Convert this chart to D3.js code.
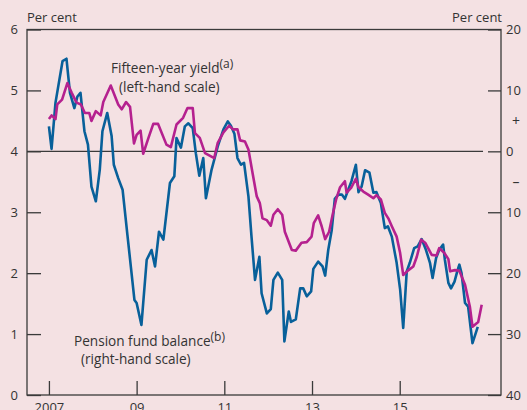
<!DOCTYPE html>
<html>
<head>
<meta charset="utf-8">
<script src="https://cdn.jsdelivr.net/npm/d3@7"></script>
<style>
  html, body { margin: 0; padding: 0; background: #f4e1e3; }
  svg { display: block; }
  text { font-family: "Open Sans", "Noto Sans", sans-serif; fill: #333; }
</style>
</head>
<body>
<svg id="chart" width="527" height="410"></svg>
<script>
// ---- Data ----
// Fifteen-year yield, per cent (left-hand scale); dates in decimal years
const yieldDates = [2007.00, 2007.06, 2007.15, 2007.19, 2007.30, 2007.42, 2007.52, 2007.63, 2007.73, 2007.82,
  2007.92, 2007.97, 2008.07, 2008.18, 2008.24, 2008.41, 2008.58, 2008.66, 2008.76, 2008.85,
  2008.94, 2009.00, 2009.09, 2009.15, 2009.27, 2009.38, 2009.49, 2009.68, 2009.78, 2009.91,
  2010.06, 2010.16, 2010.28, 2010.33, 2010.44, 2010.56, 2010.77, 2010.85, 2010.98, 2011.11,
  2011.20, 2011.30, 2011.36, 2011.47, 2011.55, 2011.65, 2011.74, 2011.81, 2011.87, 2011.97,
  2012.06, 2012.12, 2012.22, 2012.32, 2012.38, 2012.54, 2012.63, 2012.76, 2012.88, 2012.99,
  2013.04, 2013.14, 2013.22, 2013.30, 2013.39, 2013.47, 2013.55, 2013.64, 2013.75, 2013.79,
  2013.90, 2014.00, 2014.06, 2014.17, 2014.28, 2014.40, 2014.47, 2014.57, 2014.66, 2014.74,
  2014.82, 2014.93, 2015.01, 2015.08, 2015.20, 2015.31, 2015.39, 2015.49, 2015.58, 2015.73,
  2015.84, 2015.90, 2016.01, 2016.11, 2016.15, 2016.26, 2016.36, 2016.49, 2016.60, 2016.66,
  2016.79, 2016.87];
const yieldValues = [4.53, 4.59, 4.53, 4.77, 4.85, 5.12, 4.96, 4.80, 4.77, 4.63,
  4.63, 4.50, 4.66, 4.59, 4.81, 5.08, 4.77, 4.69, 4.81, 4.73,
  4.13, 4.27, 4.34, 3.96, 4.22, 4.45, 4.45, 4.11, 4.07, 4.44,
  4.55, 4.71, 4.71, 4.30, 4.22, 3.97, 3.89, 4.14, 4.31, 4.42,
  4.36, 4.36, 4.18, 4.16, 4.03, 3.62, 3.26, 3.15, 2.90, 2.87,
  2.78, 2.96, 3.05, 2.96, 2.68, 2.38, 2.37, 2.50, 2.51, 2.60,
  2.82, 2.95, 2.77, 2.56, 2.68, 2.96, 3.21, 3.41, 3.51, 3.32,
  3.41, 3.55, 3.41, 3.34, 3.29, 3.23, 3.28, 3.21, 2.99, 2.90,
  2.77, 2.60, 2.33, 1.97, 2.05, 2.11, 2.27, 2.55, 2.50, 2.30,
  2.29, 2.41, 2.34, 2.23, 2.03, 2.05, 2.04, 1.81, 1.45, 1.12,
  1.20, 1.48];

// Pension fund balance, per cent (right-hand scale)
const balanceDates = [2007.00, 2007.06, 2007.15, 2007.31, 2007.40, 2007.48, 2007.58, 2007.65, 2007.72, 2007.81,
  2007.89, 2007.97, 2008.07, 2008.16, 2008.22, 2008.33, 2008.43, 2008.48, 2008.58, 2008.68,
  2008.79, 2008.95, 2009.00, 2009.11, 2009.23, 2009.34, 2009.42, 2009.51, 2009.61, 2009.76,
  2009.86, 2009.91, 2010.01, 2010.10, 2010.18, 2010.28, 2010.35, 2010.43, 2010.52, 2010.58,
  2010.71, 2010.85, 2010.98, 2011.08, 2011.15, 2011.23, 2011.30, 2011.38, 2011.45, 2011.55,
  2011.62, 2011.70, 2011.80, 2011.85, 2011.97, 2012.06, 2012.12, 2012.22, 2012.32, 2012.37,
  2012.47, 2012.52, 2012.63, 2012.73, 2012.80, 2012.88, 2012.98, 2013.03, 2013.14, 2013.24,
  2013.30, 2013.37, 2013.45, 2013.52, 2013.60, 2013.68, 2013.75, 2013.83, 2013.90, 2014.00,
  2014.06, 2014.13, 2014.21, 2014.31, 2014.40, 2014.47, 2014.57, 2014.66, 2014.73, 2014.82,
  2014.93, 2015.01, 2015.08, 2015.16, 2015.23, 2015.33, 2015.41, 2015.50, 2015.60, 2015.69,
  2015.75, 2015.83, 2015.90, 2015.99, 2016.03, 2016.11, 2016.17, 2016.25, 2016.32, 2016.36,
  2016.41, 2016.49, 2016.56, 2016.66, 2016.78];
const balanceValues = [4.1, 0.4, 8.0, 14.8, 15.2, 9.6, 7.1, 9.0, 9.6, 3.3,
  1.1, -5.8, -8.2, -3.0, 3.3, 6.3, 2.5, -2.2, -4.4, -6.3,
  -13.7, -24.4, -24.9, -28.5, -17.8, -16.2, -18.9, -13.2, -14.5, -5.2,
  -4.1, 2.2, 0.6, 4.1, 4.6, 3.8, -0.3, -4.0, -1.1, -7.7,
  -3.0, 0.8, 3.6, 4.9, 4.2, 2.9, -1.1, -2.2, -1.9, -7.4,
  -14.0, -21.1, -17.3, -23.3, -26.6, -25.9, -21.1, -19.9, -21.1, -31.2,
  -26.3, -28.0, -27.6, -22.5, -22.5, -23.8, -23.0, -19.3, -18.1, -18.9,
  -20.4, -16.2, -12.9, -7.8, -7.1, -7.1, -7.8, -6.2, -4.9, -2.2,
  -6.7, -5.8, -3.1, -3.5, -6.8, -6.7, -8.5, -12.6, -12.3, -14.0,
  -18.3, -22.7, -29.0, -19.7, -18.3, -15.9, -15.6, -14.4, -16.2, -18.3,
  -20.8, -17.5, -16.2, -15.3, -17.8, -21.6, -22.5, -21.4, -19.5, -18.6,
  -20.0, -24.9, -25.5, -31.5, -28.8];

// Axis ticks and labels
const xTickYears = [2007, 2009, 2011, 2013, 2015];
const xTickLabels = ["2007", "09", "11", "13", "15"];
const leftTicks = [0, 1, 2, 3, 4, 5, 6];
const rightTicks = [20, 10, 0, -10, -20, -30, -40];
const rightTickLabels = ["20", "10", "0", "10", "20", "30", "40"];

// ---- Layout ----
const svg = d3.select("#chart");
const W = 527, H = 410;
const plot = { left: 27, right: 501, top: 29.5, bottom: 395 };
const colors = { bg: "#f4e1e3", axis: "#3a3a3a", blue: "#08609a", magenta: "#b5218f", text: "#333" };

svg.append("rect").attr("width", W).attr("height", H).attr("fill", colors.bg);

const x = d3.scaleLinear().domain([2006.5, 2017.31]).range([plot.left, plot.right]);
const yL = d3.scaleLinear().domain([0, 6]).range([plot.bottom, plot.top]);
const yR = d3.scaleLinear().domain([-40, 20]).range([plot.bottom, plot.top]);

// zero line of right-hand scale
svg.append("line")
  .attr("x1", plot.left).attr("x2", x(2016.9))
  .attr("y1", yR(0)).attr("y2", yR(0))
  .attr("stroke", colors.axis).attr("stroke-width", 1.3);

// series
const balance = balanceDates.map((d, i) => ({ t: d, v: balanceValues[i] }));
const yld = yieldDates.map((d, i) => ({ t: d, v: yieldValues[i] }));

svg.append("path").datum(balance)
  .attr("fill", "none").attr("stroke", colors.blue).attr("stroke-width", 2.6)
  .attr("stroke-linejoin", "round")
  .attr("d", d3.line().x(d => x(d.t)).y(d => yR(d.v)));

svg.append("path").datum(yld)
  .attr("fill", "none").attr("stroke", colors.magenta).attr("stroke-width", 2.6)
  .attr("stroke-linejoin", "round")
  .attr("d", d3.line().x(d => x(d.t)).y(d => yL(d.v)));

// frame
svg.append("rect")
  .attr("x", plot.left).attr("y", plot.top)
  .attr("width", plot.right - plot.left).attr("height", plot.bottom - plot.top)
  .attr("fill", "none").attr("stroke", colors.axis).attr("stroke-width", 1.3);

function styleAxis(g) {
  g.select(".domain").remove();
  g.selectAll(".tick line").attr("stroke", colors.axis).attr("stroke-width", 1.3);
  g.selectAll(".tick text").attr("fill", colors.text)
    .style("font-family", '"Open Sans", "Noto Sans", sans-serif').style("font-size", "13px");
}

svg.append("g").attr("transform", `translate(${plot.left},0)`)
  .call(d3.axisLeft(yL).tickValues(leftTicks).tickSizeInner(-14).tickSizeOuter(0).tickPadding(9)
    .tickFormat(d3.format("d")))
  .call(styleAxis);

svg.append("g").attr("transform", `translate(${plot.right},0)`)
  .call(d3.axisRight(yR).tickValues(rightTicks).tickSizeInner(-13).tickSizeOuter(0).tickPadding(5)
    .tickFormat((d, i) => rightTickLabels[i]))
  .call(styleAxis);

svg.append("g").attr("transform", `translate(0,${plot.bottom})`)
  .call(d3.axisBottom(x).tickValues(xTickYears).tickSizeInner(-14).tickSizeOuter(0).tickPadding(8)
    .tickFormat((d, i) => xTickLabels[i]))
  .call(styleAxis);

// units
svg.append("text").attr("x", plot.left).attr("y", 22).attr("font-size", 13).text("Per cent");
svg.append("text").attr("x", plot.right + 1).attr("y", 22).attr("font-size", 13)
  .attr("text-anchor", "end").text("Per cent");

// + / – signs on right-hand scale
svg.append("text").attr("x", 516).attr("y", (yR(10) + yR(0)) / 2).attr("dy", "0.35em")
  .attr("text-anchor", "middle").attr("font-size", 14).text("+");
svg.append("text").attr("x", 516).attr("y", (yR(0) + yR(-10)) / 2).attr("dy", "0.35em")
  .attr("text-anchor", "middle").attr("font-size", 14).text("–");

// annotations
const a1 = svg.append("text").attr("x", 111).attr("y", 72.5).attr("font-size", 13.6);
a1.append("tspan").text("Fifteen-year yield");
a1.append("tspan").attr("dy", -5).attr("font-size", 12).text("(a)");
svg.append("text").attr("x", 119).attr("y", 91.5).attr("font-size", 13.6).text("(left-hand scale)");

const a2 = svg.append("text").attr("x", 74).attr("y", 345.5).attr("font-size", 13.6);
a2.append("tspan").text("Pension fund balance");
a2.append("tspan").attr("dy", -5).attr("font-size", 12).text("(b)");
svg.append("text").attr("x", 81).attr("y", 363.5).attr("font-size", 13.6).text("(right-hand scale)");
</script>
</body>
</html>
